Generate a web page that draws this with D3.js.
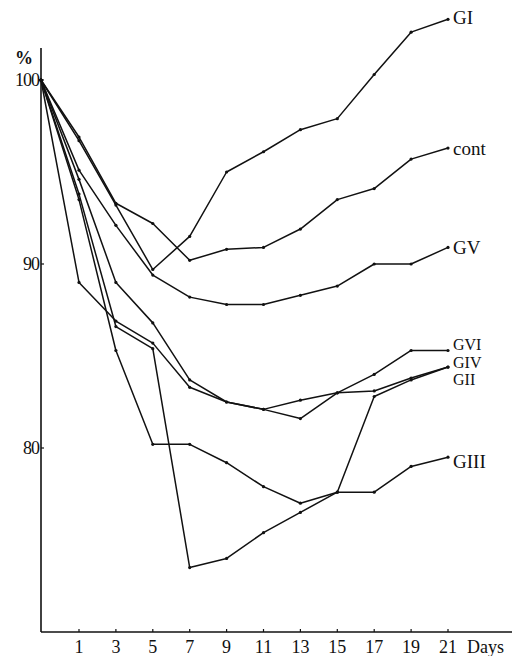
<!DOCTYPE html>
<meta charset="utf-8">
<html>
<head>
<style>
  body { margin: 0; background: #fff; }
  svg text { font-family: "Liberation Serif", "DejaVu Serif", serif; fill: #111; }
  .line { fill: none; stroke: #111; stroke-width: 1.5; stroke-linejoin: round; }
  .axis { stroke: #111; stroke-width: 1.6; fill: none; }
</style>
</head>
<body>
<script src="https://cdn.jsdelivr.net/npm/d3@7/dist/d3.min.js"></script>
<script>
// days after start (0 = start, drawn on the y axis)
var days = [0, 1, 3, 5, 7, 9, 11, 13, 15, 17, 19, 21];
var xTicks = [1, 3, 5, 7, 9, 11, 13, 15, 17, 19, 21];
var yTicks = [80, 90, 100];

// body weight, % of start value
var gI   = [100, 96.7, 93.2, 89.7, 91.5, 95.0, 96.1, 97.3, 97.9, 100.3, 102.6, 103.3];
var cont = [100, 96.9, 93.3, 92.2, 90.2, 90.8, 90.9, 91.9, 93.5, 94.1, 95.7, 96.3];
var gV   = [100, 95.1, 92.1, 89.4, 88.2, 87.8, 87.8, 88.3, 88.8, 90.0, 90.0, 90.9];
var gVI  = [100, 94.6, 89.0, 86.8, 83.7, 82.5, 82.1, 81.6, 83.0, 84.0, 85.3, 85.3];
var gIV  = [100, 89.0, 86.9, 85.7, 83.3, 82.5, 82.1, 82.6, 83.0, 83.1, 83.8, 84.4];
var gII  = [100, 93.8, 86.6, 85.4, 73.5, 74.0, 75.4, 76.5, 77.6, 82.8, 83.7, 84.4];
var gIII = [100, 93.5, 85.3, 80.2, 80.2, 79.2, 77.9, 77.0, 77.6, 77.6, 79.0, 79.5];

var names = ["GI", "cont", "GV", "GVI", "GIV", "GII", "GIII"];
var values = [gI, cont, gV, gVI, gIV, gII, gIII];

var width = 512, height = 656;

var svg = d3.select("body").append("svg")
    .attr("width", width)
    .attr("height", height);

// the start point sits on the axis, day 1 onwards is evenly spaced
var x = d3.scaleLinear()
    .domain([0, 1, 21])
    .range([41, 79, 448]);

var y = d3.scaleLinear()
    .domain([70, 100])
    .range([632, 80]);

// axes
svg.append("line").attr("class", "axis")
    .attr("x1", x(0)).attr("x2", 512)
    .attr("y1", y(70)).attr("y2", y(70));
svg.append("line").attr("class", "axis")
    .attr("x1", x(0)).attr("x2", x(0))
    .attr("y1", 48).attr("y2", y(70));

svg.selectAll(".xtick")
    .data(xTicks)
    .enter().append("line")
    .attr("stroke", "#111")
    .attr("stroke-width", 1.2)
    .attr("x1", function(d) { return x(d); })
    .attr("x2", function(d) { return x(d); })
    .attr("y1", y(70))
    .attr("y2", y(70) - 3);

svg.selectAll(".xlabel")
    .data(xTicks)
    .enter().append("text")
    .attr("x", function(d) { return x(d); })
    .attr("y", 653)
    .attr("text-anchor", "middle")
    .style("font-size", "18px")
    .text(function(d) { return d; });

svg.append("text")
    .attr("x", 467)
    .attr("y", 653)
    .style("font-size", "18px")
    .text("Days");

svg.selectAll(".ytick")
    .data(yTicks)
    .enter().append("line")
    .attr("stroke", "#111")
    .attr("stroke-width", 1.2)
    .attr("x1", x(0))
    .attr("x2", x(0) + 3)
    .attr("y1", function(d) { return y(d); })
    .attr("y2", function(d) { return y(d); });

svg.selectAll(".ylabel")
    .data(yTicks)
    .enter().append("text")
    .attr("x", x(0) - 2)
    .attr("y", function(d) { return y(d); })
    .attr("dy", ".35em")
    .attr("text-anchor", "end")
    .style("font-size", "18px")
    .style("letter-spacing", "-1px")
    .text(function(d) { return d; });

svg.append("text")
    .attr("x", 24)
    .attr("y", 64)
    .attr("text-anchor", "middle")
    .style("font-size", "18px")
    .style("font-weight", "bold")
    .text("%");

// lines
var line = d3.line()
    .x(function(d, i) { return x(days[i]); })
    .y(function(d) { return y(d); });

var groups = svg.selectAll(".series")
    .data(values)
    .enter().append("g");

groups.append("path")
    .attr("class", "line")
    .attr("d", function(d) { return line(d); });

groups.selectAll("circle")
    .data(function(d) { return d; })
    .enter().append("circle")
    .attr("cx", function(d, i) { return x(days[i]); })
    .attr("cy", function(d) { return y(d); })
    .attr("r", 1.6)
    .attr("fill", "#111");

// end labels, nudged where they crowd
var nudge = { GI: -2, cont: 0, GV: 0, GVI: -6, GIV: -5, GII: 12, GIII: 4 };
var labelSize = { GVI: 16, GIV: 16, GII: 16 };

groups.append("text")
    .attr("x", x(21) + 5)
    .attr("y", function(d, i) { return y(d[d.length - 1]) + nudge[names[i]]; })
    .attr("dy", ".35em")
    .style("font-size", function(d, i) { return (labelSize[names[i]] || 19) + "px"; })
    .text(function(d, i) { return names[i]; });
</script>
</body>
</html>
